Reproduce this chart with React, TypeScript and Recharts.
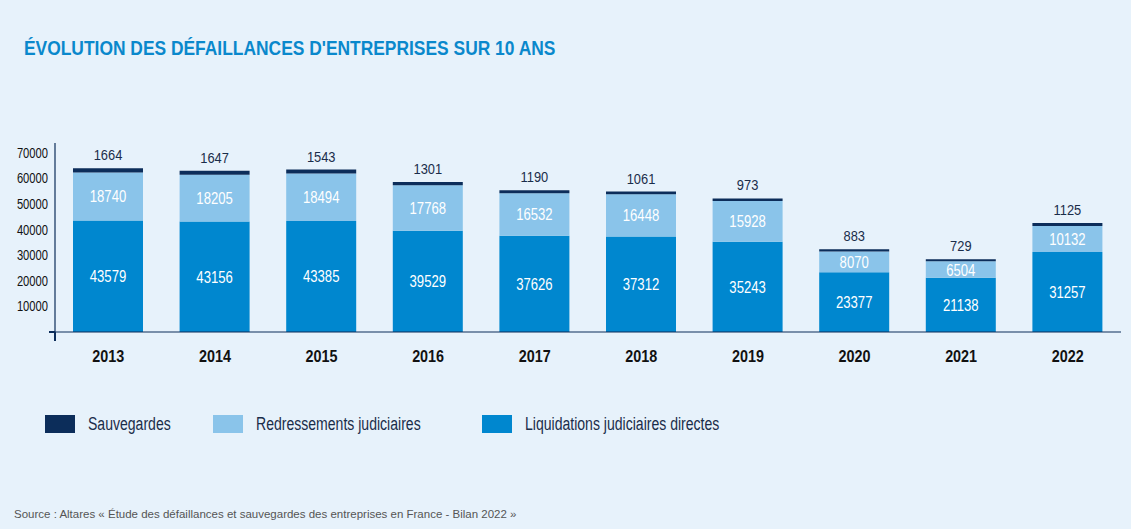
import React from 'react';
import { BarChart, Bar, XAxis, YAxis, LabelList } from 'recharts';

const years = ['2013', '2014', '2015', '2016', '2017', '2018', '2019', '2020', '2021', '2022'];
const liquidations = [43579, 43156, 43385, 39529, 37626, 37312, 35243, 23377, 21138, 31257];
const redressements = [18740, 18205, 18494, 17768, 16532, 16448, 15928, 8070, 6504, 10132];
const sauvegardes = [1664, 1647, 1543, 1301, 1190, 1061, 973, 883, 729, 1125];
const yTicks = [10000, 20000, 30000, 40000, 50000, 60000, 70000];

const data = years.map((y, i) => ({
  year: y,
  liq: liquidations[i],
  red: redressements[i],
  sav: sauvegardes[i],
}));

const FONT = '"Liberation Sans", Arial, sans-serif';
const C_DARK = '#0c2d5a';
const C_LIGHT = '#8ac4ea';
const C_MID = '#0087cf';
const C_BG = '#e7f2fb';
const C_TEXT = '#1a2d4a';

const legendItems = [
  { label: 'Sauvegardes', color: C_DARK, left: 45 },
  { label: 'Redressements judiciaires', color: C_LIGHT, left: 213 },
  { label: 'Liquidations judiciaires directes', color: C_MID, left: 482 },
];

const CondText = ({ x, y, text, size, scale, anchor = 'middle', fill = '#111', weight = 'normal' }: any) => (
  <text
    x={0}
    y={0}
    transform={`translate(${x},${y}) scale(${scale},1)`}
    textAnchor={anchor}
    fontFamily={FONT}
    fontSize={size}
    fontWeight={weight}
    fill={fill}
  >
    {text}
  </text>
);

const XTick = (props: any) => {
  const { x, y, payload } = props;
  return <CondText x={x} y={y + 30} text={payload.value} size={16.5} scale={0.87} weight="bold" fill="#111" />;
};

const YTick = (props: any) => {
  const { x, y, payload } = props;
  return <CondText x={x} y={y + 5} text={payload.value} size={14} scale={0.8} anchor="end" fill="#111" />;
};

const CenterLabel = (props: any) => {
  const { x, y, width, height, value } = props;
  return <CondText x={x + width / 2} y={y + height / 2 + 6} text={value} size={16} scale={0.82} fill="#ffffff" />;
};

const TopLabel = (props: any) => {
  const { x, y, width, value } = props;
  return <CondText x={x + width / 2} y={y - 8} text={value} size={14} scale={0.92} fill={C_TEXT} />;
};

export default function App() {
  return (
    <div style={{ position: 'absolute', left: 0, top: 0, width: 1131, height: 529, background: C_BG, overflow: 'hidden' }}>
      <div
        style={{
          position: 'absolute',
          left: 24,
          top: 37,
          fontFamily: FONT,
          fontWeight: 'bold',
          fontSize: 20,
          color: '#0a88cc',
          whiteSpace: 'nowrap',
          transform: 'scaleX(0.87)',
          transformOrigin: 'left top',
        }}
      >
        ÉVOLUTION DES DÉFAILLANCES D'ENTREPRISES SUR 10 ANS
      </div>
      <BarChart
        width={1131}
        height={529}
        data={data}
        margin={{ top: 143, right: 10, bottom: 167, left: 0 }}
        style={{ position: 'absolute', left: 0, top: 0 }}
      >
        <XAxis
          dataKey="year"
          height={30}
          axisLine={{ stroke: C_DARK, strokeWidth: 1.2 }}
          tickLine={false}
          tickSize={0}
          tickMargin={0}
          interval={0}
          tick={<XTick />}
        />
        <YAxis
          width={55}
          domain={[0, 73800]}
          ticks={yTicks}
          interval={0}
          axisLine={{ stroke: C_DARK, strokeWidth: 1.2 }}
          tickLine={false}
          tickSize={0}
          tickMargin={7}
          tick={<YTick />}
          allowDataOverflow
        />
        <Bar dataKey="liq" stackId="a" fill={C_MID} barSize={70} isAnimationActive={false}>
          <LabelList dataKey="liq" content={<CenterLabel />} />
        </Bar>
        <Bar dataKey="red" stackId="a" fill={C_LIGHT} barSize={70} isAnimationActive={false}>
          <LabelList dataKey="red" content={<CenterLabel />} />
        </Bar>
        <Bar dataKey="sav" stackId="a" fill={C_DARK} barSize={70} isAnimationActive={false}>
          <LabelList dataKey="sav" content={<TopLabel />} />
        </Bar>
      </BarChart>
      {/* small axis overhangs at the origin */}
      <div style={{ position: 'absolute', left: 49, top: 331.4, width: 6, height: 1.2, background: C_DARK }} />
      <div style={{ position: 'absolute', left: 54.4, top: 332, width: 1.2, height: 9, background: C_DARK }} />
      {legendItems.map((it) => (
        <div key={it.label} style={{ position: 'absolute', left: it.left, top: 415, height: 18, display: 'flex', alignItems: 'center' }}>
          <div style={{ width: 30, height: 18, background: it.color }} />
          <span
            style={{
              marginLeft: 13,
              fontFamily: FONT,
              fontSize: 18,
              color: C_TEXT,
              lineHeight: '18px',
              whiteSpace: 'nowrap',
              display: 'inline-block',
              transform: 'scaleX(0.78)',
              transformOrigin: 'left center',
            }}
          >
            {it.label}
          </span>
        </div>
      ))}
      <div style={{ position: 'absolute', left: 14, top: 508, fontFamily: FONT, fontSize: 11.5, color: '#555', whiteSpace: 'nowrap' }}>
        Source : Altares « Étude des défaillances et sauvegardes des entreprises en France - Bilan 2022 »
      </div>
    </div>
  );
}
